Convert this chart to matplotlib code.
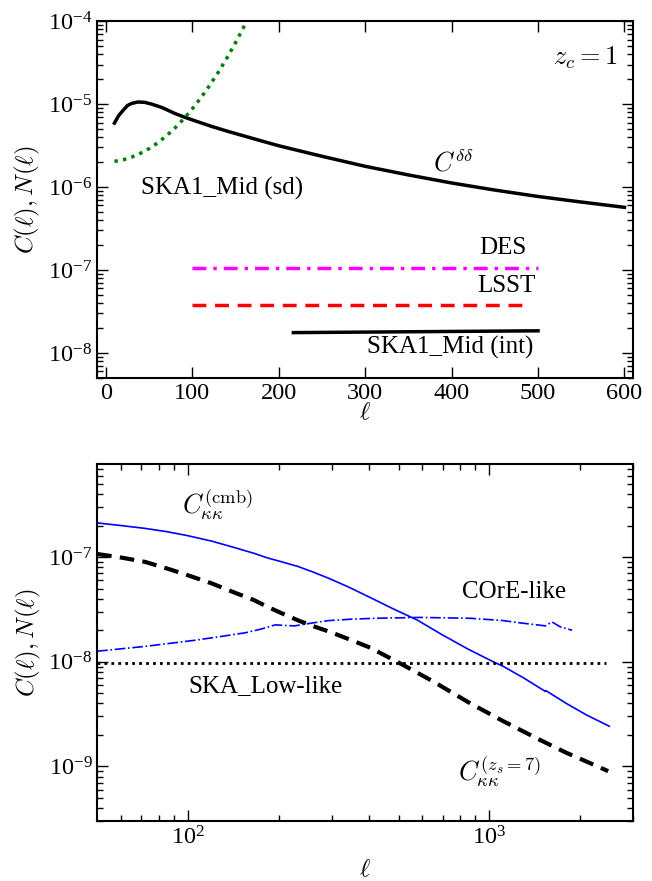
import matplotlib
matplotlib.use("Agg")
import matplotlib.pyplot as plt
import numpy as np
from matplotlib.ticker import FuncFormatter, LogLocator, NullFormatter, FixedLocator

plt.rcParams['font.family'] = 'serif'
plt.rcParams['font.serif'] = ['Liberation Serif', 'DejaVu Serif']
plt.rcParams['mathtext.fontset'] = 'cm'
plt.rcParams['font.size'] = 18

# top panel data (z_c = 1)
ell_dd = [10, 15, 20, 25, 30, 37, 45, 53, 65, 80, 92, 103, 122, 141, 161, 180, 200,
          220, 250, 300, 350, 400, 450, 500, 550, 600]
c_dd = [5.9e-6, 7.3e-6, 8.4e-6, 9.6e-6, 1.02e-5, 1.06e-5, 1.05e-5, 1.0e-5, 9.1e-6,
        7.7e-6, 6.9e-6, 6.3e-6, 5.4e-6, 4.7e-6, 4.1e-6, 3.6e-6, 3.15e-6, 2.8e-6,
        2.35e-6, 1.78e-6, 1.4e-6, 1.12e-6, 9.2e-7, 7.7e-7, 6.6e-7, 5.7e-7]

ell_sd = [10, 20, 30, 40, 50, 60, 70, 80, 90, 100, 110, 120, 130, 140, 150, 160, 170]
n_sd = [2.04e-6, 2.13e-6, 2.30e-6, 2.55e-6, 2.90e-6, 3.41e-6, 4.13e-6, 5.15e-6,
        6.61e-6, 8.75e-6, 1.19e-5, 1.67e-5, 2.41e-5, 3.58e-5, 5.48e-5, 8.65e-5, 1.40e-4]

ell_des = [100, 500]
n_des = [1.06e-7, 1.06e-7]
ell_lsst = [100, 490]
n_lsst = [3.8e-8, 3.8e-8]
ell_int = [217, 500]
n_int = [1.76e-8, 1.85e-8]

# bottom panel data
ell_cmb = [50, 60, 72, 85, 100, 120, 143, 165, 184, 205, 226, 230, 260, 292, 340, 403,
           480, 577, 700, 850, 1030, 1115, 1300, 1535, 1540, 1800, 2100, 2500]
c_cmb = [2.12e-7, 2.0e-7, 1.88e-7, 1.75e-7, 1.6e-7, 1.42e-7, 1.23e-7, 1.09e-7, 9.8e-8,
         9.0e-8, 8.3e-8, 8.2e-8, 7.2e-8, 6.3e-8, 5.2e-8, 4.1e-8, 3.2e-8, 2.5e-8,
         1.8e-8, 1.32e-8, 1.0e-8, 9.0e-9, 7.0e-9, 5.2e-9, 5.3e-9, 4.0e-9, 3.1e-9, 2.42e-9]

ell_z7 = [50, 60, 72, 85, 100, 120, 143, 165, 184, 205, 233, 265, 300, 350, 403, 518,
          650, 865, 1100, 1439, 1800, 2150, 2480]
c_z7 = [1.07e-7, 9.9e-8, 9.0e-8, 7.8e-8, 6.7e-8, 5.6e-8, 4.57e-8, 3.9e-8, 3.34e-8,
        2.9e-8, 2.47e-8, 2.15e-8, 1.9e-8, 1.6e-8, 1.36e-8, 9.3e-9, 6.5e-9, 4.0e-9,
        2.75e-9, 1.85e-9, 1.35e-9, 1.08e-9, 9.0e-10]

ell_core = [50, 72, 105, 130, 155, 175, 195, 210, 226, 260, 292, 350, 418, 589, 865,
            1100, 1267, 1535, 1614, 1721, 1883]
n_core = [1.26e-8, 1.4e-8, 1.6e-8, 1.75e-8, 1.89e-8, 2.05e-8, 2.25e-8, 2.22e-8, 2.2e-8,
          2.35e-8, 2.47e-8, 2.55e-8, 2.6e-8, 2.65e-8, 2.6e-8, 2.48e-8, 2.35e-8, 2.2e-8,
          2.4e-8, 2.15e-8, 2.0e-8]

ell_low = [50, 2430]
n_low = [9.7e-9, 9.7e-9]

top_yticks = [1e-8, 1e-7, 1e-6, 1e-5, 1e-4]
bot_yticks = [1e-9, 1e-8, 1e-7]
bot_xticks = [100, 1000]


def pow_fmt(v, pos):
    e = int(round(np.log10(v)))
    return r'$\mathregular{10^{%d}}$' % e


fig = plt.figure(figsize=(6.52, 8.81), dpi=100)
ax1 = fig.add_axes([0.149, 0.571, 0.822, 0.405])
ax2 = fig.add_axes([0.149, 0.068, 0.822, 0.405])

# top panel
ax1.plot(ell_dd, c_dd, color='black', lw=2.5)
ax1.plot(ell_sd, n_sd, color='green', lw=2.5, linestyle=(0, (1, 1.5)))
ax1.plot(ell_des, n_des, color='magenta', lw=2.5, linestyle=(0, (4, 2, 1, 2)))
ax1.plot(ell_lsst, n_lsst, color='red', lw=2.5, linestyle=(0, (4, 2.5)))
ax1.plot(ell_int, n_int, color='black', lw=2.5)
ax1.set_yscale('log')
ax1.set_xlim(-10, 610)
ax1.set_ylim(5e-9, 1e-4)
ax1.set_xticks([0, 100, 200, 300, 400, 500, 600])
ax1.yaxis.set_major_locator(FixedLocator(top_yticks))
ax1.yaxis.set_major_formatter(FuncFormatter(pow_fmt))
ax1.set_xlabel(r'$\ell$', labelpad=-1)
ax1.set_ylabel(r'$C(\ell),N(\ell)$')
ax1.text(555, 3.6e-5, r'$z_c=1$', ha='center', va='center', fontsize=19)
ax1.text(402, 2.0e-6, r'$C^{\delta\delta}$', ha='center', va='center', fontsize=19)
ax1.text(135, 9.7e-7, 'SKA1_Mid (sd)', ha='center', va='center', fontsize=18)
ax1.text(459, 1.84e-7, 'DES', ha='center', va='center', fontsize=18)
ax1.text(463, 6.4e-8, 'LSST', ha='center', va='center', fontsize=18)
ax1.text(398, 1.15e-8, 'SKA1_Mid (int)', ha='center', va='center', fontsize=18)

# bottom panel
ax2.plot(ell_cmb, c_cmb, color='blue', lw=1.2)
ax2.plot(ell_z7, c_z7, color='black', lw=3, linestyle=(0, (3.5, 2)))
ax2.plot(ell_core, n_core, color='blue', lw=1.2, linestyle='-.')
ax2.plot(ell_low, n_low, color='black', lw=2, linestyle=(0, (1, 1.5)))
ax2.set_xscale('log')
ax2.set_yscale('log')
ax2.set_xlim(50, 3000)
ax2.set_ylim(3e-10, 7.7e-7)
ax2.xaxis.set_major_locator(FixedLocator(bot_xticks))
ax2.yaxis.set_major_locator(FixedLocator(bot_yticks))
ax2.xaxis.set_major_formatter(FuncFormatter(pow_fmt))
ax2.yaxis.set_major_formatter(FuncFormatter(pow_fmt))
ax2.set_xlabel(r'$\ell$', labelpad=7)
ax2.set_ylabel(r'$C(\ell),N(\ell)$')
ax2.text(125, 3.2e-7, r'$C_{\kappa\kappa}^{\rm (cmb)}$', ha='center', va='center', fontsize=19)
ax2.text(1205, 4.6e-8, 'COrE-like', ha='center', va='center', fontsize=18)
ax2.text(181, 5.9e-9, 'SKA_Low-like', ha='center', va='center', fontsize=18)
ax2.text(1080, 9.0e-10, r'$C_{\kappa\kappa}^{(z_s=7)}$', ha='center', va='center', fontsize=19)

for ax in (ax1, ax2):
    ax.tick_params(which='both', direction='in', top=True, right=True, labelsize=17.5)
    ax.tick_params(which='major', length=8, width=1)
    ax.tick_params(which='minor', length=4, width=1)
    ax.yaxis.set_minor_locator(LogLocator(base=10, subs=np.arange(2, 10)))
    ax.yaxis.set_minor_formatter(NullFormatter())
    for s in ax.spines.values():
        s.set_linewidth(1.5)
ax2.xaxis.set_minor_locator(FixedLocator([60, 70, 80, 90, 200, 300, 400, 500, 600,
                                          700, 800, 900, 2000, 3000]))
ax2.xaxis.set_minor_formatter(NullFormatter())

fig.savefig('out.png', dpi=100)
